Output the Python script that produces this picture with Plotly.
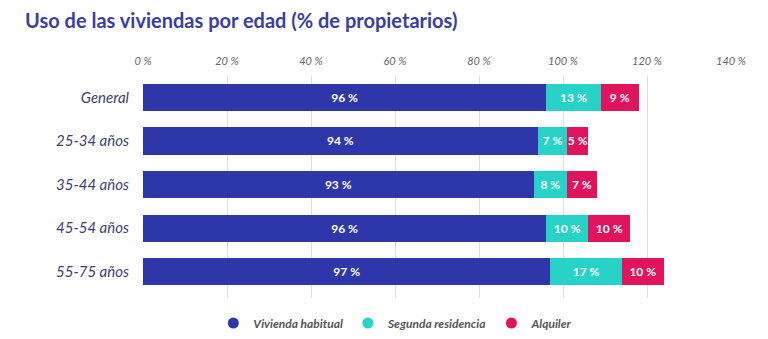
import plotly.graph_objects as go

# Categories and shares (% of homeowners)
categorias = ["General", "25-34 años", "35-44 años", "45-54 años", "55-75 años"]
vivienda_habitual = [96, 94, 93, 96, 97]
segunda_residencia = [13, 7, 8, 10, 17]
alquiler = [9, 5, 7, 10, 10]

series = [
    ("Vivienda habitual", vivienda_habitual, "#2e37aa"),
    ("Segunda residencia", segunda_residencia, "#26d3c6"),
    ("Alquiler", alquiler, "#e1135c"),
]

tick_vals = [0, 20, 40, 60, 80, 100, 120, 140]
tick_text = [f"{v} %" for v in tick_vals]

FONT = "Lato"

fig = go.Figure()

for nombre, valores, color in series:
    fig.add_trace(go.Bar(
        y=categorias,
        x=valores,
        orientation="h",
        name=nombre,
        marker=dict(color=color, line=dict(width=0)),
        text=[f"{v} %" for v in valores],
        textposition="inside",
        insidetextanchor="middle",
        textangle=0,
        textfont=dict(color="white", size=12, family=FONT, weight="bold"),
        showlegend=False,
        hoverinfo="skip",
    ))

# Round legend markers
for nombre, _, color in series:
    fig.add_trace(go.Scatter(
        x=[None], y=[None], mode="markers", name=nombre,
        marker=dict(color=color, size=11, symbol="circle"),
        showlegend=True,
    ))

fig.update_layout(
    width=768,
    height=339,
    barmode="stack",
    bargap=0.38,
    plot_bgcolor="white",
    paper_bgcolor="white",
    margin=dict(l=143, r=37, t=76, b=41, autoexpand=False),
    uniformtext=dict(minsize=12, mode="show"),
    title=dict(
        text="Uso de las viviendas por edad (% de propietarios)",
        x=25 / 768, xanchor="left",
        y=1 - 21 / 339, yanchor="middle", yref="container",
        font=dict(family=FONT, size=20, color="#3b3ea0", weight="bold"),
    ),
    xaxis=dict(
        side="top",
        range=[0, 140],
        tickvals=tick_vals,
        ticktext=tick_text,
        showgrid=True,
        gridcolor="#dedede",
        gridwidth=1,
        zeroline=False,
        showline=False,
        tickfont=dict(family=FONT, size=11, color="#666666", style="italic"),
        ticks="outside", ticklen=6, tickcolor="rgba(0,0,0,0)",
    ),
    yaxis=dict(
        categoryorder="array",
        categoryarray=categorias,
        range=[4.6, -0.49],
        showgrid=False,
        zeroline=False,
        showline=False,
        tickfont=dict(family=FONT, size=15, color="#3c3f6e", style="italic"),
        ticks="outside", ticklen=10, tickcolor="rgba(0,0,0,0)",
    ),
    legend=dict(
        orientation="h",
        traceorder="normal",
        x=0.43, xanchor="center",
        y=(339 - 323) / 339, yanchor="middle", yref="container",
        font=dict(family=FONT, size=12, color="#555555", style="italic", weight="bold"),
        itemwidth=30,
        bgcolor="rgba(0,0,0,0)",
    ),
)

fig.write_html("out.html")
